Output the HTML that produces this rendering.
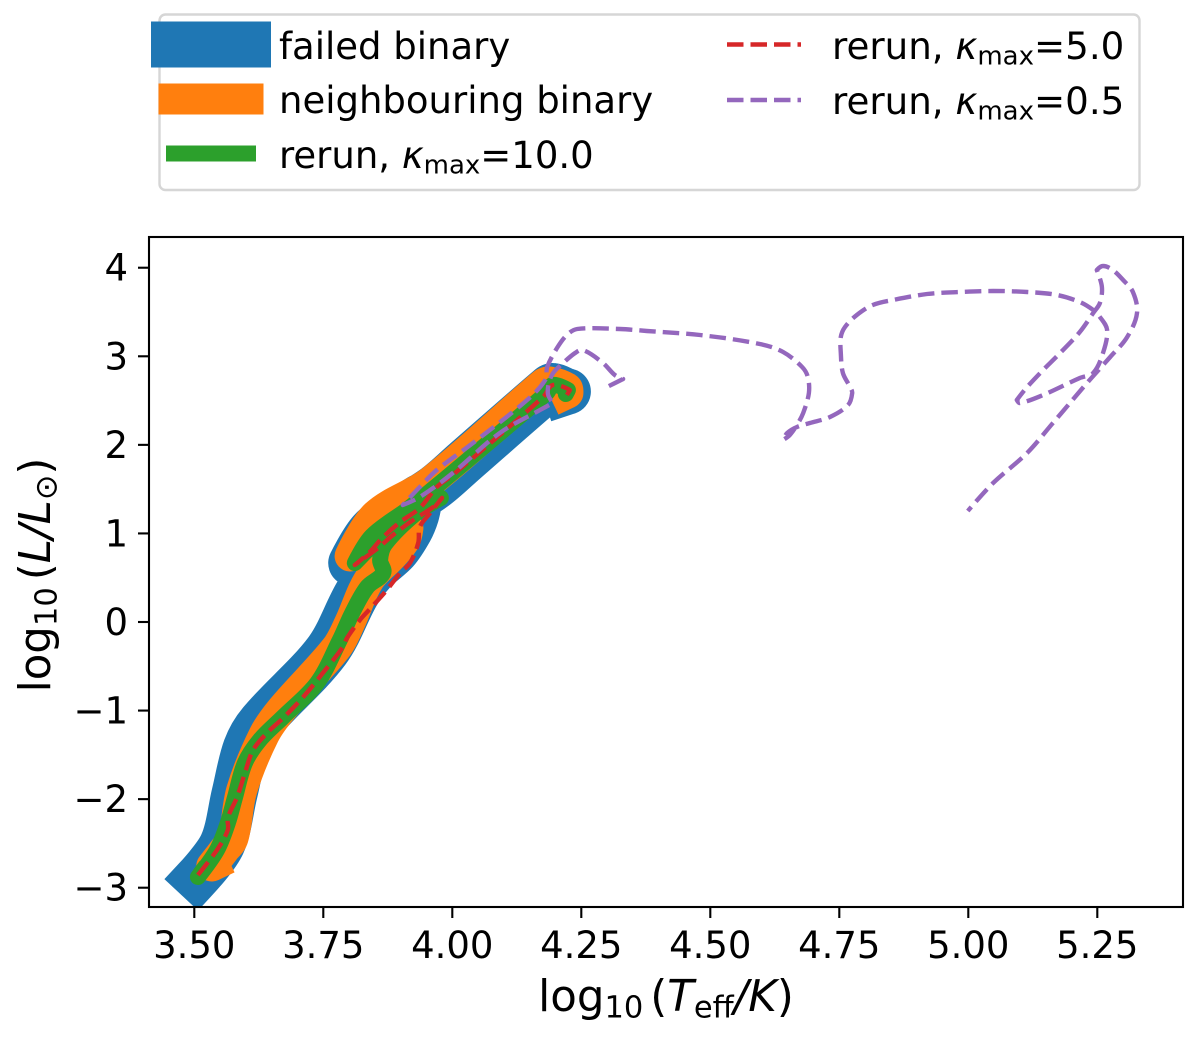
<!DOCTYPE html>
<html lang="en">
<head>
<meta charset="utf-8">
<title>HR diagram: failed binary and reruns</title>
<style>
html,body{margin:0;padding:0;background:#fff;width:1200px;height:1037px;overflow:hidden}
svg{display:block}
text{font-family:"DejaVu Sans","Liberation Sans",sans-serif;fill:#000}
.i{font-style:italic}
</style>
</head>
<body>
<svg id="chart" xmlns="http://www.w3.org/2000/svg" width="1200" height="1037" viewBox="0 0 1200 1037">
  <defs>
    <clipPath id="plot-clip"><rect x="149" y="237" width="1034" height="670"/></clipPath>
  </defs>
  <rect x="0" y="0" width="1200" height="1037" fill="#fff"/>
  <g id="series" clip-path="url(#plot-clip)"></g>
  <g id="x-ticks"></g>
  <g id="y-ticks"></g>
  <rect x="149" y="237" width="1034" height="670" fill="none" stroke="#000" stroke-width="2.1"/>

  <text x="666" y="1011" font-size="43.5" text-anchor="middle">log<tspan font-size="30.5" dy="6.5">10</tspan><tspan dy="-6.5" dx="7">(</tspan><tspan class="i">T</tspan><tspan font-size="30.5" dy="6.5">eff</tspan><tspan class="i" dy="-6.5">/K</tspan>)</text>
  <text x="50" y="575" font-size="43.5" text-anchor="middle" transform="rotate(-90 50 575)">log<tspan font-size="30.5" dy="6.5">10</tspan><tspan dy="-6.5" dx="7">(</tspan><tspan class="i">L/L</tspan><tspan font-size="30.5" dy="6.5">⊙</tspan><tspan dy="-6.5">)</tspan></text>

  <g>
    <rect x="159.5" y="14.5" width="980" height="175.5" rx="6" fill="#fff" stroke="#d6d6d6" stroke-width="2.4"/>
    <line x1="174" x2="248" y1="44.5" y2="44.5" stroke="#1f77b4" stroke-width="46" stroke-linecap="square"/>
    <line x1="174" x2="248" y1="99" y2="99" stroke="#ff7f0e" stroke-width="31" stroke-linecap="square"/>
    <line x1="174" x2="248" y1="153.5" y2="153.5" stroke="#2ca02c" stroke-width="16" stroke-linecap="square"/>
    <line x1="727" x2="801" y1="44.5" y2="44.5" stroke="#d62728" stroke-width="4.4" stroke-dasharray="16.5 7"/>
    <line x1="727" x2="801" y1="100" y2="100" stroke="#9467bd" stroke-width="4.4" stroke-dasharray="16.5 7"/>
    <text x="279" y="59" font-size="37">failed binary</text>
    <text x="279" y="113" font-size="37">neighbouring binary</text>
    <text x="279" y="168" font-size="37">rerun, <tspan class="i">κ</tspan><tspan font-size="26" dy="5.5">max</tspan><tspan dy="-5.5">=10.0</tspan></text>
    <text x="832" y="59" font-size="37.2">rerun, <tspan class="i">κ</tspan><tspan font-size="26" dy="5.5">max</tspan><tspan dy="-5.5">=5.0</tspan></text>
    <text x="832" y="114" font-size="37.2">rerun, <tspan class="i">κ</tspan><tspan font-size="26" dy="5.5">max</tspan><tspan dy="-5.5">=0.5</tspan></text>
  </g>
</svg>
<script>
const xTickValues = [3.5, 3.75, 4.0, 4.25, 4.5, 4.75, 5.0, 5.25];
const xTickLabels = ["3.50", "3.75", "4.00", "4.25", "4.50", "4.75", "5.00", "5.25"];
const yTickValues = [-3, -2, -1, 0, 1, 2, 3, 4];
const yTickLabels = ["\u22123", "\u22122", "\u22121", "0", "1", "2", "3", "4"];

const failedTeff = [3.505,3.554,3.578,3.600,3.629,3.757,3.815,3.848,3.891,3.918,3.930,3.937,3.895,3.842,3.804,3.842,3.895,3.967,4.025,4.185,4.195,4.220,4.224,4.220];
const failedLum = [-2.89,-2.51,-1.94,-1.42,-1.13,-0.327,0.316,0.576,0.802,1.039,1.208,1.411,1.253,1.027,0.666,1.027,1.253,1.524,1.818,2.631,2.665,2.608,2.603,2.595];

const neighbourTeff = [3.538,3.534,3.558,3.575,3.592,3.635,3.670,3.775,3.802,3.827,3.844,3.883,3.908,3.914,3.889,3.802,3.852,3.957,4.176,4.189,4.222,4.224,4.220];
const neighbourLum = [-2.744,-2.755,-2.574,-2.439,-1.897,-1.276,-0.982,-0.294,0.0,0.35,0.519,0.745,0.926,1.061,1.129,0.745,1.208,1.581,2.687,2.71,2.642,2.586,2.574];

const kappa10Teff = [3.521,3.507,3.544,3.565,3.579,3.598,3.627,3.672,3.738,3.782,3.806,3.835,3.866,3.860,3.870,3.928,3.978,3.924,3.879,3.811,3.844,3.914,3.986,4.183,4.195,4.224,4.220];
const kappa10Lum = [-2.766,-2.879,-2.574,-2.269,-1.976,-1.592,-1.332,-1.073,-0.689,-0.203,0.102,0.395,0.553,0.700,0.881,1.219,1.400,1.287,1.061,0.666,0.971,1.276,1.615,2.586,2.676,2.619,2.574];

const kappa5Teff = [3.507,3.544,3.565,3.565,3.583,3.598,3.614,3.641,3.672,3.711,3.749,3.788,3.796,3.821,3.844,3.873,3.899,3.918,3.934,3.937,3.957,3.980,3.963,3.924,3.885,3.856,3.811,3.840,3.864,3.899,3.937,3.970,4.001,4.176,4.195,4.228,4.222];
const kappa5Lum = [-2.857,-2.574,-2.348,-2.213,-1.976,-1.705,-1.445,-1.253,-1.084,-0.847,-0.576,-0.282,-0.181,0.023,0.169,0.361,0.553,0.666,0.892,1.073,1.231,1.400,1.298,1.152,0.982,0.836,0.644,0.790,0.948,1.129,1.287,1.524,1.660,2.540,2.676,2.619,2.563];

const kappa05Teff = [4.999,5.048,5.114,5.164,5.230,5.275,5.308,5.327,5.319,5.300,5.280,5.261,5.249,5.259,5.255,5.242,5.216,5.178,5.145,5.114,5.094,5.100,5.145,5.216,5.242,5.261,5.269,5.255,5.242,5.216,5.172,5.114,5.048,4.984,4.920,4.854,4.815,4.784,4.761,4.753,4.753,4.757,4.771,4.775,4.767,4.732,4.693,4.668,4.649,4.641,4.654,4.668,4.680,4.691,4.689,4.678,4.641,4.596,4.480,4.377,4.325,4.242,4.222,4.203,4.184,4.180,4.145,4.040,3.970,3.937,3.904,3.937,4.001,4.092,4.170,4.195,4.185,4.193,4.215,4.238,4.253,4.292,4.315,4.331,4.296];
const kappa05Lum = [1.253,1.569,1.908,2.247,2.698,2.992,3.218,3.489,3.726,3.861,3.974,4.019,3.974,3.782,3.602,3.489,3.274,3.037,2.845,2.653,2.507,2.473,2.563,2.755,2.811,3.037,3.297,3.444,3.523,3.613,3.692,3.726,3.737,3.726,3.703,3.636,3.579,3.466,3.331,3.218,3.037,2.811,2.653,2.586,2.450,2.315,2.247,2.202,2.134,2.055,2.111,2.224,2.360,2.586,2.766,2.879,3.048,3.139,3.240,3.286,3.308,3.308,3.240,3.094,2.879,2.732,2.507,2.021,1.716,1.524,1.321,1.411,1.682,2.134,2.394,2.473,2.586,2.789,2.924,3.037,3.071,2.924,2.789,2.744,2.642];

const SVGNS = "http://www.w3.org/2000/svg";
function xAxis(v) { return 194.3 + (v - 3.5) * 516; }
function yAxis(v) { return 622 - v * 88.57; }

/* Smooth curve through the data points; sharp turns stay as corners. */
function trackPath(ts, ls) {
  const px = ts.map(xAxis);
  const py = ls.map(yAxis);
  const n = px.length;
  const tx = new Array(n).fill(0);
  const ty = new Array(n).fill(0);
  for (let i = 1; i < n - 1; i++) {
    const ax = px[i] - px[i - 1], ay = py[i] - py[i - 1];
    const bx = px[i + 1] - px[i], by = py[i + 1] - py[i];
    const la = Math.hypot(ax, ay), lb = Math.hypot(bx, by);
    if (la === 0 || lb === 0) continue;
    const cos = (ax * bx + ay * by) / (la * lb);
    if (cos < 0.3) continue;
    const cx = px[i + 1] - px[i - 1], cy = py[i + 1] - py[i - 1];
    const lc = Math.hypot(cx, cy);
    tx[i] = cx / lc;
    ty[i] = cy / lc;
  }
  let d = "M" + px[0].toFixed(1) + " " + py[0].toFixed(1);
  for (let i = 0; i < n - 1; i++) {
    const len = Math.hypot(px[i + 1] - px[i], py[i + 1] - py[i]) / 3;
    d += "C" + (px[i] + tx[i] * len).toFixed(1) + " " + (py[i] + ty[i] * len).toFixed(1) +
         " " + (px[i + 1] - tx[i + 1] * len).toFixed(1) + " " + (py[i + 1] - ty[i + 1] * len).toFixed(1) +
         " " + px[i + 1].toFixed(1) + " " + py[i + 1].toFixed(1);
  }
  return d;
}

const seriesGroup = document.getElementById("series");

const failedLine = document.createElementNS(SVGNS, "path");


failedLine.setAttribute("d", trackPath(failedTeff, failedLum));
failedLine.setAttribute("fill", "none");
failedLine.setAttribute("stroke", "#1f77b4");
failedLine.setAttribute("stroke-width", "46");
failedLine.setAttribute("stroke-linecap", "square");
failedLine.setAttribute("stroke-linejoin", "round");
seriesGroup.appendChild(failedLine);

const neighbourLine = document.createElementNS(SVGNS, "path");


neighbourLine.setAttribute("d", trackPath(neighbourTeff, neighbourLum));
neighbourLine.setAttribute("fill", "none");
neighbourLine.setAttribute("stroke", "#ff7f0e");
neighbourLine.setAttribute("stroke-width", "31");
neighbourLine.setAttribute("stroke-linecap", "square");
neighbourLine.setAttribute("stroke-linejoin", "round");
seriesGroup.appendChild(neighbourLine);

const kappa10Line = document.createElementNS(SVGNS, "path");


kappa10Line.setAttribute("d", trackPath(kappa10Teff, kappa10Lum));
kappa10Line.setAttribute("fill", "none");
kappa10Line.setAttribute("stroke", "#2ca02c");
kappa10Line.setAttribute("stroke-width", "16");
kappa10Line.setAttribute("stroke-linecap", "round");
kappa10Line.setAttribute("stroke-linejoin", "round");
seriesGroup.appendChild(kappa10Line);

const kappa5Line = document.createElementNS(SVGNS, "path");


kappa5Line.setAttribute("d", trackPath(kappa5Teff, kappa5Lum));
kappa5Line.setAttribute("fill", "none");
kappa5Line.setAttribute("stroke", "#d62728");
kappa5Line.setAttribute("stroke-width", "4.4");
kappa5Line.setAttribute("stroke-dasharray", "16.5 7");
kappa5Line.setAttribute("stroke-linejoin", "round");
seriesGroup.appendChild(kappa5Line);

const kappa05Line = document.createElementNS(SVGNS, "path");


kappa05Line.setAttribute("d", trackPath(kappa05Teff, kappa05Lum));
kappa05Line.setAttribute("fill", "none");
kappa05Line.setAttribute("stroke", "#9467bd");
kappa05Line.setAttribute("stroke-width", "4.4");
kappa05Line.setAttribute("stroke-dasharray", "16.5 7");
kappa05Line.setAttribute("stroke-dashoffset", "11");
kappa05Line.setAttribute("stroke-linejoin", "round");
seriesGroup.appendChild(kappa05Line);

const xTickGroup = document.getElementById("x-ticks");
xTickValues.forEach(function (v, i) {
  const tick = document.createElementNS(SVGNS, "line");
  
  
  tick.setAttribute("x1", xAxis(v));
  tick.setAttribute("x2", xAxis(v));
  tick.setAttribute("y1", 907);
  tick.setAttribute("y2", 918);
  tick.setAttribute("stroke", "#000");
  tick.setAttribute("stroke-width", "2.1");
  xTickGroup.appendChild(tick);
  const label = document.createElementNS(SVGNS, "text");
  
  
  label.setAttribute("x", xAxis(v));
  label.setAttribute("y", 958);
  label.setAttribute("font-size", "37");
  label.setAttribute("text-anchor", "middle");
  label.textContent = xTickLabels[i];
  xTickGroup.appendChild(label);
});

const yTickGroup = document.getElementById("y-ticks");
yTickValues.forEach(function (v, i) {
  const tick = document.createElementNS(SVGNS, "line");
  
  
  tick.setAttribute("x1", 138);
  tick.setAttribute("x2", 149);
  tick.setAttribute("y1", yAxis(v));
  tick.setAttribute("y2", yAxis(v));
  tick.setAttribute("stroke", "#000");
  tick.setAttribute("stroke-width", "2.1");
  yTickGroup.appendChild(tick);
  const label = document.createElementNS(SVGNS, "text");
  
  
  label.setAttribute("x", 128);
  label.setAttribute("y", yAxis(v) + 13);
  label.setAttribute("font-size", "37");
  label.setAttribute("text-anchor", "end");
  label.textContent = yTickLabels[i];
  yTickGroup.appendChild(label);
});
</script>
</body>
</html>
